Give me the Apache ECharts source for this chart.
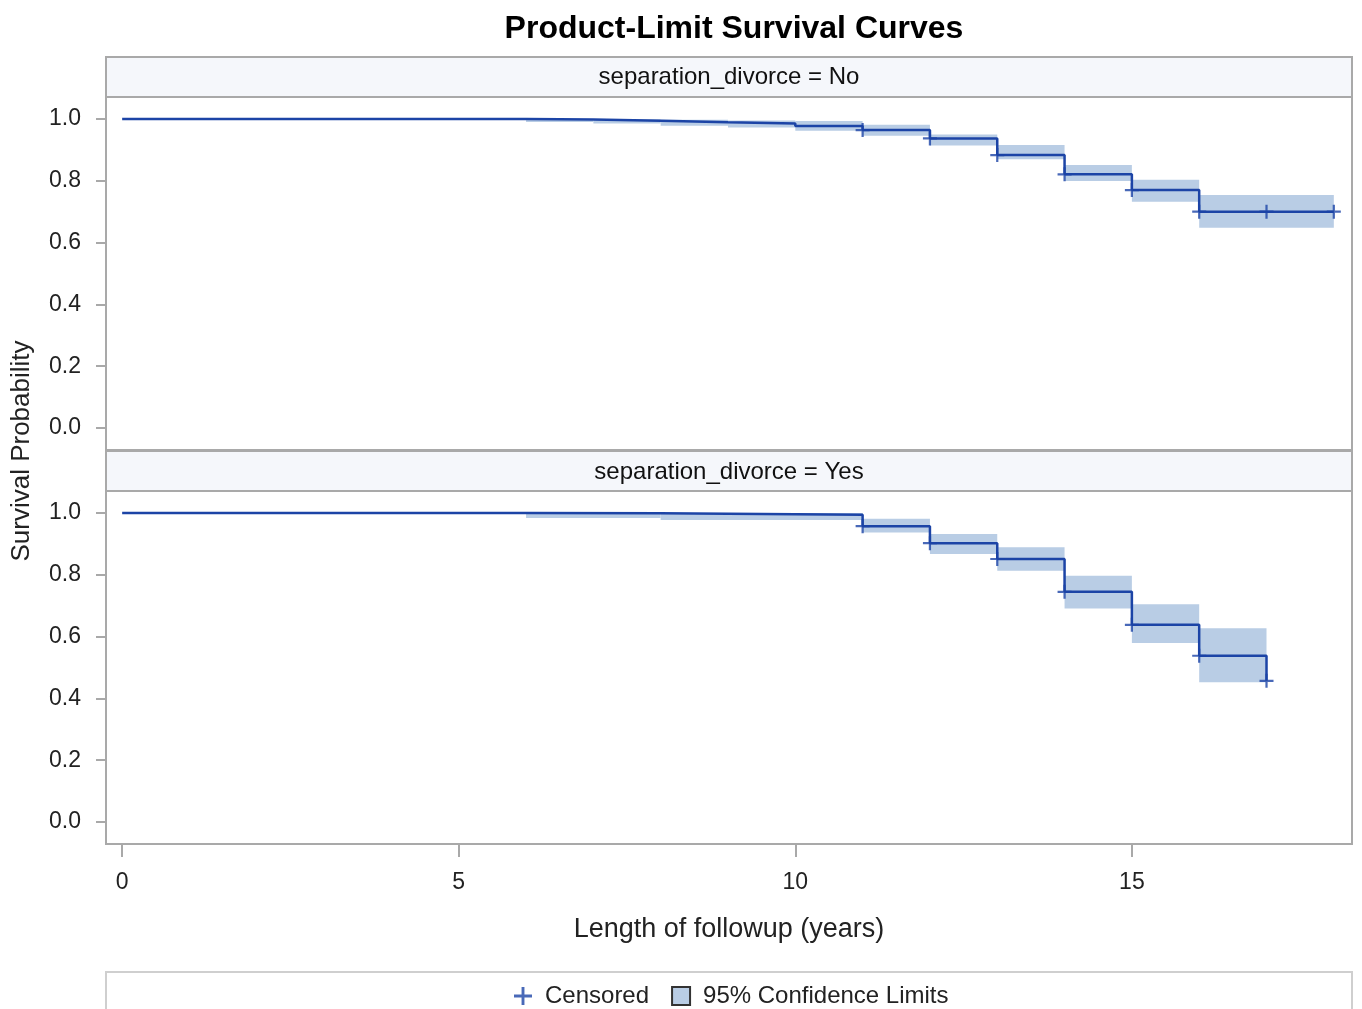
<!DOCTYPE html>
<html>
<head>
<meta charset="utf-8">
<script src="https://cdn.jsdelivr.net/npm/echarts@6/dist/echarts.min.js"></script>
<style>
  html, body { margin: 0; padding: 0; background: #fff; }
  #main { width: 1362px; height: 1009px; }
</style>
</head>
<body>
<div id="main"></div>
<script>
// ---- data ----
const panelTitles = ['separation_divorce = No', 'separation_divorce = Yes'];
const xTicks = [0, 5, 10, 15];
const yTicks = [0, 0.2, 0.4, 0.6, 0.8, 1.0];

// separation_divorce = No : step curve (time, survival after event)
const timesNo = [0, 6, 7, 8, 9, 10, 11, 12, 13, 14, 15, 16, 18];
const survNo = [1.0, 0.998, 0.994, 0.989, 0.985, 0.977, 0.964, 0.937, 0.883, 0.821, 0.770, 0.700, 0.700];
// confidence band intervals: start, end, lower, upper
const bandStartNo = [6, 7, 8, 9, 10, 11, 12, 13, 14, 15, 16];
const bandEndNo = [7, 8, 9, 10, 11, 12, 13, 14, 15, 16, 18];
const bandLowNo = [0.990, 0.985, 0.978, 0.972, 0.962, 0.946, 0.914, 0.870, 0.799, 0.732, 0.648];
const bandHighNo = [1.0, 0.999, 0.997, 0.995, 0.993, 0.981, 0.950, 0.916, 0.851, 0.803, 0.754];
const censTimesNo = [11, 12, 13, 14, 15, 16, 17, 18];
const censSurvNo = [0.964, 0.937, 0.883, 0.821, 0.770, 0.700, 0.700, 0.700];

// separation_divorce = Yes
const timesYes = [0, 6, 8, 11, 12, 13, 14, 15, 16, 17];
const survYes = [1.0, 0.999, 0.994, 0.957, 0.902, 0.851, 0.745, 0.638, 0.538, 0.457];
const bandStartYes = [6, 8, 11, 12, 13, 14, 15, 16];
const bandEndYes = [8, 11, 12, 13, 14, 15, 16, 17];
const bandLowYes = [0.984, 0.977, 0.937, 0.867, 0.813, 0.691, 0.579, 0.452];
const bandHighYes = [1.0, 1.0, 0.981, 0.932, 0.889, 0.797, 0.705, 0.627];
const censTimesYes = [11, 12, 13, 14, 15, 16, 17];
const censSurvYes = [0.957, 0.902, 0.851, 0.745, 0.638, 0.538, 0.457];

const lineColor = '#1c44a6';
const bandColor = '#b9cde5';
const frameColor = '#a9a9a9';
const fontFam = '"Liberation Sans", Arial, sans-serif';
const plusPath = 'path://M4.2,0H5.8V4.2H10V5.8H5.8V10H4.2V5.8H0V4.2H4.2Z';

function zip(a, b) { return a.map((v, i) => [v, b[i]]); }
function bands(s, e, lo, hi) { return s.map((v, i) => [v, e[i], lo[i], hi[i]]); }

function renderBand(params, api) {
    const p0 = api.coord([api.value(0), api.value(3)]);
    const p1 = api.coord([api.value(1), api.value(2)]);
    return {
        type: 'rect',
        shape: { x: p0[0], y: p0[1], width: p1[0] - p0[0], height: p1[1] - p0[1] },
        style: api.style()
    };
}

const plotLeft = 106, plotWidth = 1246;
const plotCenter = plotLeft + plotWidth / 2;
const gridTops = [97, 491], gridHeight = 353;

function xAxisFor(i, showLabels) {
    return {
        type: 'value', gridIndex: i, min: -0.24, max: 18.27, position: 'bottom',
        axisLine: { show: false, onZero: false },
        splitLine: { show: false },
        axisTick: { show: showLabels, length: 13, customValues: xTicks, lineStyle: { color: frameColor, width: 2 } },
        axisLabel: { show: showLabels, customValues: xTicks, margin: 27, fontSize: 23, color: '#222', fontFamily: fontFam },
        name: showLabels ? 'Length of followup (years)' : '',
        nameLocation: 'middle', nameGap: 72,
        nameTextStyle: { fontSize: 27, color: '#222', fontFamily: fontFam }
    };
}
function yAxisFor(i) {
    return {
        type: 'value', gridIndex: i, min: -0.071, max: 1.071, position: 'left',
        axisLine: { show: false, onZero: false },
        splitLine: { show: false },
        axisTick: { show: true, length: 10, customValues: yTicks, lineStyle: { color: frameColor, width: 2 } },
        axisLabel: {
            customValues: yTicks, margin: 25, fontSize: 23, color: '#222', fontFamily: fontFam,
            formatter: v => v.toFixed(1)
        }
    };
}

const myChart = echarts.init(document.getElementById('main'));

const option = {
    animation: false,
    backgroundColor: '#fff',
    title: {
        text: 'Product-Limit Survival Curves', left: plotCenter, textAlign: 'center', top: 8,
        textStyle: { fontSize: 32, fontWeight: 'bold', color: '#000', fontFamily: fontFam }
    },
    grid: gridTops.map(t => ({
        left: plotLeft, top: t, width: plotWidth, height: gridHeight,
        show: true, borderColor: frameColor, borderWidth: 2, backgroundColor: '#fff'
    })),
    xAxis: [xAxisFor(0, false), xAxisFor(1, true)],
    yAxis: [yAxisFor(0), yAxisFor(1)],
    legend: {
        top: 979, left: 509, itemWidth: 18, itemHeight: 18, itemGap: 22,
        textStyle: { fontSize: 24, color: '#222', fontFamily: fontFam, padding: [0, 0, 0, 8] },
        data: [
            { name: 'Censored', icon: plusPath, itemStyle: { color: lineColor } },
            { name: '95% Confidence Limits', icon: 'rect', itemStyle: { color: bandColor, borderColor: '#333', borderWidth: 2 } }
        ]
    },
    graphic: [
        // panel strip headers
        { type: 'rect', shape: { x: plotLeft, y: 57, width: plotWidth, height: 40 },
          style: { fill: '#f5f7fb', stroke: frameColor, lineWidth: 2 }, z: 0 },
        { type: 'text', x: plotCenter, y: 77,
          style: { text: panelTitles[0], align: 'center', verticalAlign: 'middle', fontSize: 24, fill: '#111', fontFamily: fontFam } },
        { type: 'rect', shape: { x: plotLeft, y: 451, width: plotWidth, height: 40 },
          style: { fill: '#f5f7fb', stroke: frameColor, lineWidth: 2 }, z: 0 },
        { type: 'text', x: plotCenter, y: 472,
          style: { text: panelTitles[1], align: 'center', verticalAlign: 'middle', fontSize: 24, fill: '#111', fontFamily: fontFam } },
        // shared y axis title
        { type: 'text', x: 22, y: 451, rotation: Math.PI / 2,
          style: { text: 'Survival Probability', align: 'center', verticalAlign: 'middle', fontSize: 26, fill: '#222', fontFamily: fontFam } },
        // legend frame
        { type: 'rect', shape: { x: plotLeft, y: 972, width: plotWidth, height: 45 },
          style: { fill: 'none', stroke: '#cfcfcf', lineWidth: 2 }, z: -1 }
    ],
    series: [
        {
            name: '95% Confidence Limits', type: 'custom', xAxisIndex: 0, yAxisIndex: 0,
            renderItem: renderBand, encode: { x: [0, 1], y: [2, 3] },
            itemStyle: { color: bandColor }, z: 1,
            data: bands(bandStartNo, bandEndNo, bandLowNo, bandHighNo)
        },
        {
            name: '95% Confidence Limits', type: 'custom', xAxisIndex: 1, yAxisIndex: 1,
            renderItem: renderBand, encode: { x: [0, 1], y: [2, 3] },
            itemStyle: { color: bandColor }, z: 1,
            data: bands(bandStartYes, bandEndYes, bandLowYes, bandHighYes)
        },
        {
            name: 'Survival No', type: 'line', step: 'end', xAxisIndex: 0, yAxisIndex: 0,
            showSymbol: false, lineStyle: { color: lineColor, width: 2.5 }, z: 3,
            data: zip(timesNo, survNo)
        },
        {
            name: 'Survival Yes', type: 'line', step: 'end', xAxisIndex: 1, yAxisIndex: 1,
            showSymbol: false, lineStyle: { color: lineColor, width: 2.5 }, z: 3,
            data: zip(timesYes, survYes)
        },
        {
            name: 'Censored', type: 'scatter', xAxisIndex: 0, yAxisIndex: 0,
            symbol: plusPath, symbolSize: 14, itemStyle: { color: lineColor }, z: 4,
            data: zip(censTimesNo, censSurvNo)
        },
        {
            name: 'Censored', type: 'scatter', xAxisIndex: 1, yAxisIndex: 1,
            symbol: plusPath, symbolSize: 14, itemStyle: { color: lineColor }, z: 4,
            data: zip(censTimesYes, censSurvYes)
        }
    ]
};

myChart.setOption(option);
window.addEventListener('resize', function () {
    myChart.resize();
});
</script>
</body>
</html>
